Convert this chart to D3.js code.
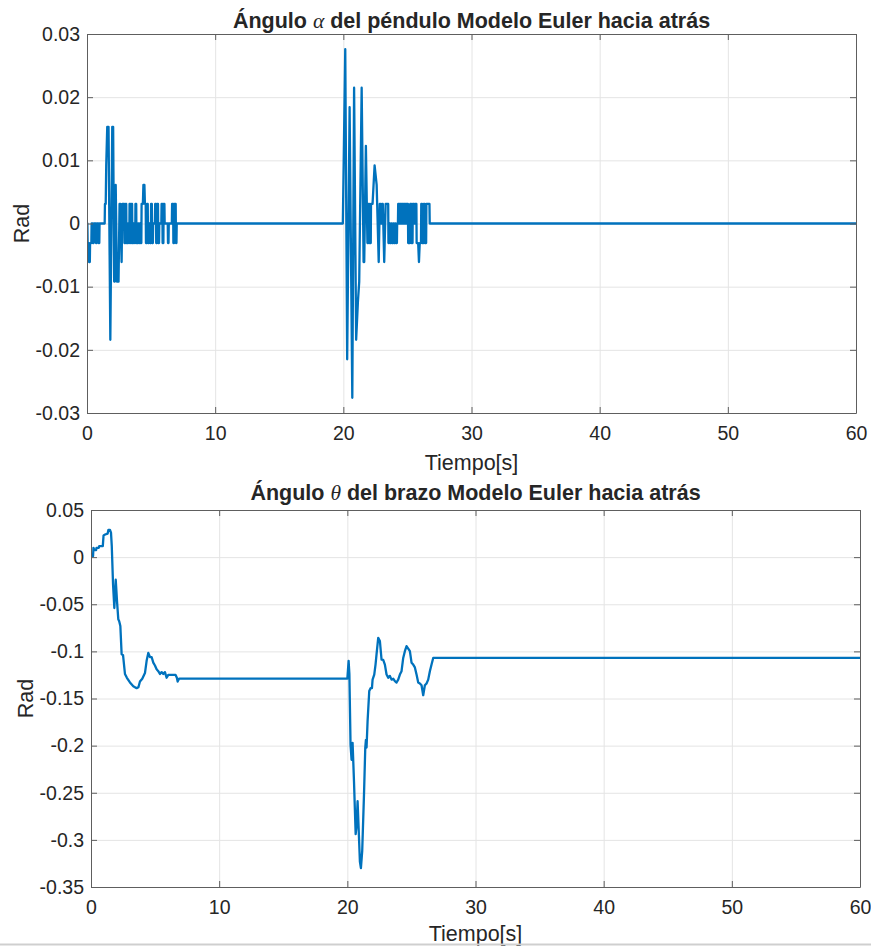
<!DOCTYPE html>
<html>
<head>
<meta charset="utf-8">
<script src="https://cdn.jsdelivr.net/npm/d3@7"></script>
<style>
  body { margin: 0; background: #fff; }
  svg text { font-family: "Liberation Sans", Arial, Helvetica, sans-serif; fill: #262626; }
</style>
</head>
<body>
<svg id="fig" width="871" height="946"></svg>
<script>
// ---- data ---------------------------------------------------------------
const timeTicks = [0, 10, 20, 30, 40, 50, 60];
const timeTickLabels = ["0", "10", "20", "30", "40", "50", "60"];

const alphaTicks = [-0.03, -0.02, -0.01, 0, 0.01, 0.02, 0.03];
const alphaTickLabels = ["-0.03", "-0.02", "-0.01", "0", "0.01", "0.02", "0.03"];

const thetaTicks = [-0.35, -0.3, -0.25, -0.2, -0.15, -0.1, -0.05, 0, 0.05];
const thetaTickLabels = ["-0.35", "-0.3", "-0.25", "-0.2", "-0.15", "-0.1", "-0.05", "0", "0.05"];

// pendulum angle alpha [rad] vs time [s] (encoder-quantised samples)
const alphaPts = [
  [0, 0], [0.03, 0], [0.05, -0.0031], [0.14, -0.0031], [0.16, -0.0061], [0.22, -0.0061], [0.24, -0.0031],
  [0.34, -0.0031], [0.36, 0], [0.44, 0], [0.46, -0.0031], [0.52, -0.0031], [0.54, 0], [0.68, 0],
  [0.70, -0.0031], [0.75, -0.0031], [0.77, 0], [0.88, 0], [0.90, -0.0031], [0.96, -0.0031], [0.98, 0],
  [1.38, 0], [1.40, 0.0031], [1.46, 0.0031], [1.50, 0.0092], [1.58, 0.0153], [1.68, 0.0153],
  [1.82, -0.0184], [1.97, 0.0153], [2.04, 0.0153], [2.12, -0.0092], [2.16, -0.0092], [2.24, 0.0061],
  [2.34, -0.0092], [2.46, -0.0092], [2.54, 0.0031], [2.60, 0.0031], [2.70, -0.0061], [2.76, 0.0031],
  [2.90, 0.0031], [2.92, -0.0031], [3.00, -0.0031], [3.02, 0.0031], [3.06, 0.0031], [3.08, -0.0031],
  [3.18, -0.0031], [3.20, 0], [3.24, 0], [3.26, -0.0031], [3.30, -0.0031], [3.32, 0.0031], [3.38, 0.0031],
  [3.40, -0.0031], [3.46, -0.0031], [3.48, 0.0031], [3.52, 0.0031], [3.54, -0.0031], [3.62, -0.0031],
  [3.64, 0], [3.70, 0], [3.72, -0.0031], [3.76, -0.0031], [3.78, 0.0031], [3.84, 0.0031], [3.86, -0.0031],
  [3.96, -0.0031], [3.98, 0], [4.02, 0], [4.04, -0.0031], [4.10, -0.0031], [4.12, 0], [4.16, 0],
  [4.18, -0.0031], [4.24, -0.0031], [4.26, 0.0031], [4.36, 0.0031], [4.40, 0.0061], [4.48, 0.0061],
  [4.52, 0.0031], [4.58, 0.0031], [4.60, -0.0031], [4.66, -0.0031], [4.68, 0.0031], [4.74, 0.0031],
  [4.76, -0.0031], [4.82, -0.0031], [4.84, 0], [4.90, 0], [4.92, -0.0031], [4.98, -0.0031], [5.00, 0.0031],
  [5.06, 0.0031], [5.08, -0.0031], [5.14, -0.0031], [5.16, 0], [5.30, 0], [5.32, 0.0031], [5.38, 0.0031],
  [5.40, -0.0031], [5.46, -0.0031], [5.48, 0.0031], [5.54, 0.0031], [5.56, -0.0031], [5.62, -0.0031],
  [5.64, 0], [5.80, 0], [5.82, 0.0031], [5.88, 0.0031], [5.90, -0.0031], [5.96, -0.0031], [5.98, 0.0031],
  [6.04, 0.0031], [6.06, 0], [6.30, 0], [6.32, -0.0031], [6.36, -0.0031], [6.38, 0], [6.62, 0],
  [6.64, 0.0031], [6.72, 0.0031], [6.74, -0.0031], [6.80, -0.0031], [6.82, 0.0031], [6.92, 0.0031],
  [6.94, -0.0031], [6.98, -0.0031], [7.00, 0],
  [19.96, 0], [20.15, 0.0276], [20.30, -0.0215], [20.49, 0.0184], [20.70, -0.0276], [20.84, 0.0215],
  [21.00, -0.0184], [21.14, -0.0123], [21.24, -0.0092], [21.43, 0.0215], [21.58, -0.0061], [21.63, -0.0061],
  [21.76, 0.0123], [21.88, -0.0031], [21.95, -0.0031], [21.97, 0.0031], [22.02, 0.0031], [22.04, -0.0031],
  [22.14, -0.0031], [22.16, 0.0031], [22.28, 0.0031], [22.44, 0.0092], [22.60, 0.0061], [22.76, -0.0061],
  [22.84, 0.0031], [22.90, 0.0031], [22.92, 0], [23.00, 0], [23.02, 0.0031], [23.08, 0.0031],
  [23.19, -0.0061], [23.30, 0.0031], [23.50, 0.0031], [23.52, -0.0031], [23.58, -0.0031], [23.60, 0],
  [23.64, 0], [23.66, -0.0031], [23.72, -0.0031], [23.74, 0], [23.78, 0], [23.80, -0.0031], [23.88, -0.0031],
  [23.90, 0], [23.94, 0], [23.96, -0.0031], [24.02, -0.0031], [24.04, 0], [24.08, 0], [24.10, -0.0031],
  [24.18, -0.0031], [24.20, 0], [24.26, 0], [24.28, 0.0031], [24.36, 0.0031], [24.38, 0], [24.42, 0],
  [24.44, 0.0031], [24.52, 0.0031], [24.54, 0], [24.58, 0], [24.60, 0.0031], [24.68, 0.0031], [24.70, 0],
  [24.74, 0], [24.76, 0.0031], [24.84, 0.0031], [24.86, 0], [24.90, 0], [24.92, 0.0031], [25.04, 0.0031],
  [25.06, -0.0031], [25.20, -0.0031], [25.22, 0.0031], [25.30, 0.0031], [25.32, -0.0031], [25.40, -0.0031],
  [25.42, 0.0031], [25.52, 0.0031], [25.54, 0], [25.60, 0], [25.62, 0.0031], [25.70, 0.0031],
  [25.72, -0.0031], [25.84, -0.0031], [25.90, -0.0061], [25.96, -0.0031], [26.06, -0.0031], [26.08, 0.0031],
  [26.14, 0.0031], [26.16, -0.0031], [26.26, -0.0031], [26.28, 0.0031], [26.34, 0.0031], [26.36, -0.0031],
  [26.46, -0.0031], [26.48, 0.0031], [26.72, 0.0031], [26.74, 0], [60, 0]
];

// arm angle theta [rad] vs time [s]
const thetaPts = [
  [0, 0], [0.05, 0.001], [0.16, 0.001], [0.19, 0.0099], [0.26, 0.0075], [0.40, 0.0075], [0.43, 0.0099],
  [0.60, 0.0099], [0.64, 0.0117], [0.92, 0.0117], [0.98, 0.023], [1.10, 0.024], [1.30, 0.025], [1.36, 0.029],
  [1.48, 0.029], [1.56, 0.026], [1.62, 0.012], [1.72, -0.029], [1.82, -0.054], [1.93, -0.024], [2.03, -0.047],
  [2.13, -0.066], [2.20, -0.068], [2.29, -0.073], [2.39, -0.103], [2.50, -0.104], [2.65, -0.124],
  [2.80, -0.128], [3.04, -0.133], [3.30, -0.137], [3.56, -0.139], [3.70, -0.138], [3.82, -0.132],
  [4.00, -0.129], [4.21, -0.123], [4.34, -0.110], [4.47, -0.1016], [4.60, -0.106], [4.73, -0.106],
  [4.86, -0.112], [4.99, -0.115], [5.12, -0.119], [5.25, -0.121], [5.38, -0.124], [5.51, -0.122],
  [5.64, -0.124], [5.77, -0.122], [5.90, -0.128], [6.03, -0.125], [6.60, -0.125], [6.70, -0.128],
  [6.76, -0.132], [6.87, -0.129], [20.00, -0.129],
  [20.10, -0.110], [20.16, -0.124], [20.25, -0.199], [20.33, -0.215], [20.41, -0.197], [20.52, -0.238],
  [20.65, -0.294], [20.72, -0.285], [20.80, -0.259], [20.88, -0.287], [20.98, -0.323], [21.06, -0.330],
  [21.16, -0.312], [21.30, -0.252], [21.40, -0.202], [21.45, -0.194], [21.50, -0.202], [21.58, -0.174],
  [21.71, -0.142], [21.82, -0.139], [21.92, -0.139], [21.97, -0.130], [22.10, -0.1246], [22.20, -0.114],
  [22.28, -0.103], [22.41, -0.0857], [22.54, -0.089], [22.67, -0.1087], [22.80, -0.109], [22.93, -0.114],
  [23.06, -0.1246], [23.19, -0.128], [23.32, -0.126], [23.45, -0.130], [23.58, -0.129], [23.71, -0.1316],
  [23.84, -0.133], [23.97, -0.130], [24.10, -0.1246], [24.23, -0.121], [24.36, -0.107], [24.49, -0.0998],
  [24.62, -0.0945], [24.75, -0.097], [24.88, -0.0998], [25.01, -0.112], [25.14, -0.114], [25.27, -0.117],
  [25.40, -0.1246], [25.53, -0.133], [25.66, -0.134], [25.79, -0.136], [25.92, -0.1465], [26.05, -0.136],
  [26.18, -0.134], [26.31, -0.130], [26.44, -0.121], [26.57, -0.114], [26.70, -0.107], [60, -0.107]
];

// ---- layout -------------------------------------------------------------
const svg = d3.select("#fig");
const LINE = "#0072BD", GRID = "#e4e4e4", AXIS = "#5e5e5e";
const tickFont = 19.5, labelFont = 21.5, titleFont = 21.5;

const panels = [
  { pre: "Ángulo ", greek: "α", post: " del péndulo Modelo Euler hacia atrás",
    pts: alphaPts, domain: [-0.03, 0.03], ticks: alphaTicks, tickLabels: alphaTickLabels,
    left: 87, right: 856, top: 34, bottom: 413, titleY: 28, xlabelY: 470, ylabelX: 29 },
  { pre: "Ángulo ", greek: "θ", post: " del brazo Modelo Euler hacia atrás",
    pts: thetaPts, domain: [-0.35, 0.05], ticks: thetaTicks, tickLabels: thetaTickLabels,
    left: 91, right: 860, top: 510, bottom: 887, titleY: 500, xlabelY: 941, ylabelX: 33 }
];

panels.forEach((p, i) => {
  const x = d3.scaleLinear().domain([0, 60]).range([p.left, p.right]);
  const y = d3.scaleLinear().domain(p.domain).range([p.bottom, p.top]);
  const w = p.right - p.left, h = p.bottom - p.top;
  const g = svg.append("g");

  // grid
  g.append("g").attr("transform", `translate(0,${p.bottom})`)
    .call(d3.axisBottom(x).tickValues(timeTicks).tickSize(-h).tickFormat(""))
    .call(s => { s.select(".domain").remove(); s.selectAll("line").attr("stroke", GRID); });
  g.append("g").attr("transform", `translate(${p.left},0)`)
    .call(d3.axisLeft(y).tickValues(p.ticks).tickSize(-w).tickFormat(""))
    .call(s => { s.select(".domain").remove(); s.selectAll("line").attr("stroke", GRID); });

  // data line
  const clipId = "clip" + i;
  svg.append("clipPath").attr("id", clipId).append("rect")
    .attr("x", p.left).attr("y", p.top).attr("width", w).attr("height", h);
  g.append("path").datum(p.pts)
    .attr("clip-path", `url(#${clipId})`)
    .attr("fill", "none").attr("stroke", LINE).attr("stroke-width", 2.3)
    .attr("stroke-linejoin", "round")
    .attr("d", d3.line().x(d => x(d[0])).y(d => y(d[1])));

  // axes (ticks pointing inwards on all four sides)
  const styleAxis = s => {
    s.select(".domain").attr("stroke", AXIS);
    s.selectAll(".tick line").attr("stroke", AXIS);
  };
  g.append("g").attr("transform", `translate(0,${p.bottom})`)
    .call(d3.axisBottom(x).tickValues(timeTicks).tickSizeInner(-6).tickSizeOuter(0)
      .tickFormat((d, k) => timeTickLabels[k]))
    .call(styleAxis)
    .call(s => s.selectAll("text").attr("y", 27).attr("dy", null)
      .style("font-size", tickFont + "px").attr("fill", "#262626"));
  g.append("g").attr("transform", `translate(0,${p.top})`)
    .call(d3.axisTop(x).tickValues(timeTicks).tickSizeInner(-6).tickSizeOuter(0).tickFormat(""))
    .call(styleAxis);
  g.append("g").attr("transform", `translate(${p.left},0)`)
    .call(d3.axisLeft(y).tickValues(p.ticks).tickSizeInner(-6).tickSizeOuter(0).tickPadding(7)
      .tickFormat((d, k) => p.tickLabels[k]))
    .call(styleAxis)
    .call(s => s.selectAll("text").style("font-size", tickFont + "px").attr("fill", "#262626"));
  g.append("g").attr("transform", `translate(${p.right},0)`)
    .call(d3.axisRight(y).tickValues(p.ticks).tickSizeInner(-6).tickSizeOuter(0).tickFormat(""))
    .call(styleAxis);
  svg.selectAll("g[font-family]").attr("font-family", null);

  // title
  const t = svg.append("text").attr("x", (p.left + p.right) / 2).attr("y", p.titleY)
    .attr("text-anchor", "middle").style("font-size", titleFont + "px").style("font-weight", "bold");
  t.append("tspan").text(p.pre);
  t.append("tspan").text(p.greek)
    .style("font-family", "'Liberation Serif', 'DejaVu Serif', serif")
    .style("font-style", "italic").style("font-weight", "normal");
  t.append("tspan").text(p.post);

  // axis labels
  svg.append("text").attr("x", (p.left + p.right) / 2).attr("y", p.xlabelY)
    .attr("text-anchor", "middle").style("font-size", labelFont + "px").text("Tiempo[s]");
  svg.append("text").attr("transform", `translate(${p.ylabelX},${(p.top + p.bottom) / 2}) rotate(-90)`)
    .attr("text-anchor", "middle").style("font-size", labelFont + "px").text("Rad");
});

// thin separator at the bottom edge of the figure
svg.append("line").attr("x1", 0).attr("x2", 871).attr("y1", 944.5).attr("y2", 944.5)
  .attr("stroke", "#cfcfcf").attr("stroke-width", 2);
</script>
</body>
</html>
